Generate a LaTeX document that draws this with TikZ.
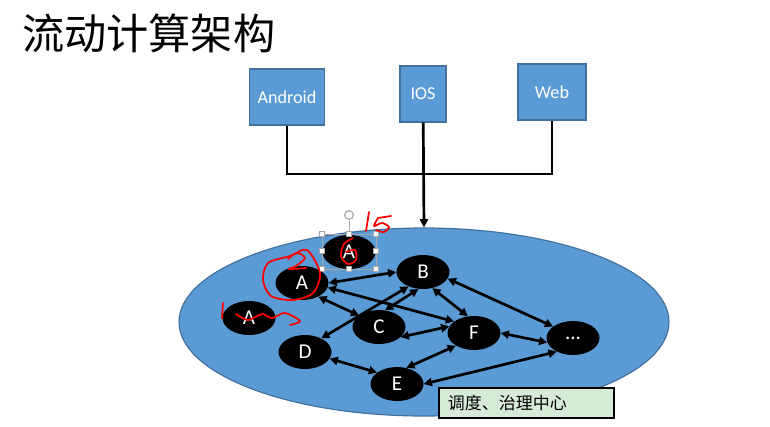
\documentclass[tikz,border=0pt]{standalone}
\usepackage{fontspec}
\setmainfont{Carlito}
\newfontfamily\cjk{Noto Sans CJK SC}
\usetikzlibrary{arrows.meta,shapes.geometric,calc}
\definecolor{boxblau}{RGB}{91,155,213}
\definecolor{randblau}{RGB}{65,113,156}
\definecolor{hellgruen}{RGB}{214,234,216}

\begin{document}
\begin{tikzpicture}[x=0.3mm, y=-0.3mm,
		Pfeil/.style={arrows = {Triangle[length=7pt,width=7pt]}-{Triangle[length=7pt,width=7pt]}, line width=2.3pt},
		Einfach/.style={arrows = -{Triangle[length=7pt,width=7pt]}, line width=2.3pt},
		Kasten/.style={draw=randblau, fill=boxblau, line width=1pt, text=white, inner sep=0pt, minimum height=16.8mm, font=\fontsize{15.5}{17}\selectfont},
		Knoten/.style={ellipse, fill=black, text=white, inner sep=0pt, minimum width=15.9mm, minimum height=10.2mm, font=\fontsize{18}{20}\selectfont},
		Rot/.style={draw=red, line width=1.5pt, line cap=round, line join=round},
		Griff/.style={draw=gray!70, fill=white, line width=0.5pt, minimum size=1.6mm, inner sep=0pt}]
				\useasboundingbox (0,0) rectangle (770,426);
				% Titel
				\node[anchor=west, font=\cjk\fontsize{36}{40}\selectfont] (titel) at (18,33) {流动计算架构};
				% Clients
				\node[Kasten, minimum width=22.5mm] (android) at (287,97) {Android};
				\node[Kasten, minimum width=13.8mm] (ios) at (423,94) {IOS};
				\node[Kasten, minimum width=20.4mm] (web) at (552,92) {Web};
				\coordinate (mitte) at (423,174);
				\draw[line width=2.3pt] (android) |- (mitte) -| (web);
				% Zentrum
				\node[ellipse, draw=randblau, fill=boxblau, line width=1pt, minimum width=147mm, minimum height=56.4mm, inner sep=0pt] (feld) at (424,322) {};
				\draw[Einfach] (ios) -- (feld.north);
				\node[Knoten] (a1) at (349,252) {A};
				\node[Knoten] (a2) at (302,283) {A};
				\node[Knoten] (a3) at (249,318) {A};
				\node[Knoten] (b) at (423,272) {B};
				\node[Knoten] (c) at (379,327) {C};
				\node[Knoten] (d) at (305,352) {D};
				\node[Knoten] (e) at (397,384) {E};
				\node[Knoten] (f) at (474,333) {F};
				\node[Knoten] (g) at (573,338) {...};
				\draw[Pfeil] (a2.east) -- (b.west);
				\draw[Pfeil] (a2.-10) -- (f.150);
				\draw[Pfeil] (a2.-40) -- (c.150);
				\draw[Pfeil] (b.225) -- (d.40);
				\draw[Pfeil] (c.70) -- (b.255);
				\draw[Pfeil] (b.-60) -- (f.110);
				\draw[Pfeil] (b.-15) -- (g.150);
				\draw[Pfeil] (c.-25) -- (f.165);
				\draw[Pfeil] (d.-15) -- (e.150);
				\draw[Pfeil] (e.60) -- (f.215);
				\draw[Pfeil] (f.east) -- (g.190);
				\draw[Pfeil] (e.east) -- (g.220);
				\node[draw=black, fill=hellgruen, line width=1.5pt, anchor=west, minimum height=9mm, text width=47.1mm, inner xsep=2.7mm, align=left, font=\cjk\fontsize{14.5}{16}\selectfont] (zentrale) at (438,403) {调度、治理中心};
				% Auswahlrahmen
				\draw[gray!70, line width=0.5pt] (322,234) rectangle (376,269);
				\draw[gray!70, line width=0.8pt] (349,234) -- (349,221);
				\node[circle, draw=gray!60, line width=1.2pt, minimum size=2.6mm, inner sep=0pt] (dreh) at (349,215) {};
				\foreach \px/\py in {322/234, 349/234, 376/234, 322/251, 376/251, 322/269, 349/269, 376/269}
					\node[Griff] at (\px,\py) {};
				% Notizen
				\draw[Rot] (369,212) -- (366,231);
				\draw[Rot] plot[smooth] coordinates {(378,218) (374,226) (382,223) (389,227) (384,232) (376,230)};
				\draw[Rot] (378,218) -- (391,216);
				\draw[Rot] plot[smooth] coordinates {(353,238) (344,244) (341,256) (348,264) (356,260) (355,250) (346,252)};
				\draw[Rot] plot[smooth cycle] coordinates {(307,250) (290,256) (268,263) (263,280) (271,296) (293,300) (313,293) (320,273)};
				\draw[Rot] plot[smooth] coordinates {(288,259) (297,253) (305,258) (296,266) (289,269) (306,268)};
				\draw[Rot] (223,303) -- (222,318);
				\draw[Rot] plot[smooth] coordinates {(236,314) (248,320) (262,314) (272,318) (285,313) (300,321) (290,325)};
			\end{tikzpicture}
\end{document}
